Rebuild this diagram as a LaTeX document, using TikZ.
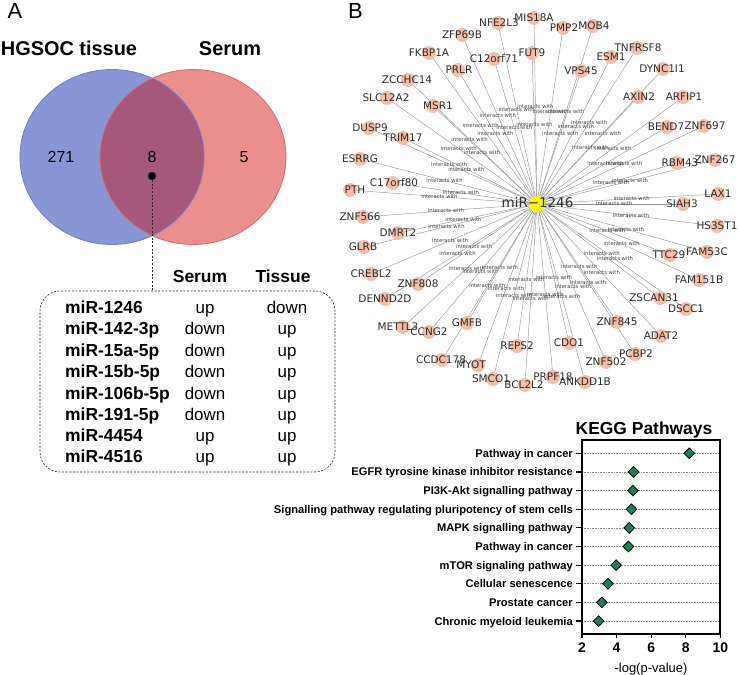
\documentclass[tikz,border=0pt]{standalone}
\usepackage{fontspec}
\setmainfont{Liberation Sans}
\newfontfamily\netfont{DejaVu Sans}
\usetikzlibrary{positioning, shapes.geometric}

\definecolor{TissueBlue}{RGB}{137,150,214}
\definecolor{TissueEdge}{RGB}{110,124,198}
\definecolor{SerumRed}{RGB}{234,142,142}
\definecolor{SerumEdge}{RGB}{214,108,108}
\definecolor{BothMauve}{RGB}{166,88,122}
\definecolor{GeneSalmon}{RGB}{246,190,166}
\definecolor{HubYellow}{RGB}{255,245,0}
\definecolor{EdgeGray}{RGB}{150,150,150}
\definecolor{NetGray}{RGB}{45,45,45}
\definecolor{KeggGreen}{RGB}{28,128,84}

\def\genes{MIS18A/534/18/534, NFE2L3/498/23/499, PMP2/563/28/564, MOB4/593/26/594,
  ZFP69B/462/35/462, FKBP1A/429/53/429, C12orf71/494/59/494, FUT9/532/53/532,
  ESM1/611/57/611, TNFRSF8/637/48/638, PRLR/458/70/459, VPS45/581/71/581,
  DYNC1I1/663/69/662, ZCCHC14/408/80/407, SLC12A2/387/98/386, MSR1/433/106/438,
  AXIN2/638/97/639, ARFIP1/683/97/684, DUSP9/369/128/370, TRIM17/403/138/403,
  BEND7/667/127/666, ZNF697/704/126/705, ESRRG/360/159/360, C17orf80/393/183/394,
  RBM43/677/163/680, ZNF267/715/160/715, PTH/350/190/355, LAX1/718/194/718,
  SIAH3/683/204/682, ZNF566/363/217/360, HS3ST1/717/226/717, DMRT2/398/233/398,
  GLRB/364/247/363, TTC29/670/255/669, FAM53C/707/252/707, CREBL2/371/274/371,
  ZNF808/418/284/418, FAM151B/699/280/699, DENND2D/385/299/385, ZSCAN31/660/298/654,
  DSCC1/686/309/686, METTL3/403/327/398, CCNG2/429/332/429, GMFB/467/323/467,
  ZNF845/617/322/617, ADAT2/661/336/661, REPS2/517/346/517, CDO1/569/343/569,
  CCDC178/442/360/441, MYOT/478/365/471, ZNF502/606/362/606, PCBP2/635/354/636,
  SMCO1/493/379/491, BCL2L2/525/385/524, PRPF18/553/377/553, ANKDD1B/585/382/585}

\begin{document}
\begin{tikzpicture}[x=1bp, y=-1bp,
        panel/.style={font=\fontsize{22}{24}\selectfont, anchor=base},
        vennhead/.style={font=\bfseries\fontsize{20}{24}\selectfont, anchor=base},
        vennnum/.style={font=\fontsize{16}{18}\selectfont, anchor=base},
        venndot/.style={circle, fill=black, inner sep=0pt, minimum size=8bp},
        tblbox/.style={draw=black!85, dashed, dash pattern=on 2bp off 1.6bp, line width=0.6bp, rounded corners=20bp, minimum width=295bp, minimum height=181bp},
        colhead/.style={font=\bfseries\fontsize{17.5}{20}\selectfont, anchor=base},
        mirname/.style={font=\bfseries\fontsize{17.5}{20}\selectfont, anchor=base west, inner sep=0pt},
        updown/.style={font=\fontsize{17}{20}\selectfont, anchor=base, inner sep=0pt},
        hub/.style={circle, fill=HubYellow, inner sep=0pt, minimum size=16bp},
        hubtext/.style={font=\netfont\fontsize{13.5}{15}\selectfont, text=NetGray, anchor=base, inner sep=0pt},
        gene/.style={circle, fill=GeneSalmon, inner sep=0pt, minimum size=14bp},
        genetext/.style={font=\netfont\fontsize{10.5}{12}\selectfont, text=NetGray, anchor=base, inner sep=0pt},
        edge/.style={draw=EdgeGray, line width=0.45bp},
        elabel/.style={font=\netfont\fontsize{5.3}{6}\selectfont, text=black!75, inner sep=0pt},
        kegghead/.style={font=\bfseries\fontsize{17.5}{20}\selectfont, anchor=base},
        keggrow/.style={font=\bfseries\fontsize{11.2}{13}\selectfont, anchor=base east, inner sep=0pt},
        keggdot/.style={diamond, draw=black, line width=0.8bp, fill=KeggGreen, inner sep=0pt, minimum size=11bp},
        rowline/.style={draw=black!45, densely dotted, line width=0.6bp},
        axis/.style={draw=black, line width=1.2bp},
        ticklabel/.style={font=\bfseries\fontsize{14}{16}\selectfont, anchor=base},
        axislabel/.style={font=\fontsize{13}{15}\selectfont, anchor=base}
    ]
        \useasboundingbox (0,0) rectangle (738,675);

        % Panel A: Venn diagram
        \node[panel] (pa) at (15,19) {A};
        \fill[TissueBlue] (112,157) ellipse [x radius=92bp, y radius=87.5bp];
        \fill[SerumRed] (193,157) ellipse [x radius=93bp, y radius=87.5bp];
        \begin{scope}
            \clip (112,157) ellipse [x radius=92bp, y radius=87.5bp];
            \fill[BothMauve] (193,157) ellipse [x radius=93bp, y radius=87.5bp];
        \end{scope}
        \draw[TissueEdge, line width=0.8bp] (112,157) ellipse [x radius=92bp, y radius=87.5bp];
        \draw[SerumEdge, line width=0.8bp] (193,157) ellipse [x radius=93bp, y radius=87.5bp];
        \node[vennhead] (tissue) at (69,56) {HGSOC tissue};
        \node[vennhead] (serum) at (230,56) {Serum};
        \node[vennnum] (only1) at (61,162) {271};
        \node[vennnum] (both) at (152,162) {8};
        \node[vennnum] (only2) at (244,162) {5};
        \node[venndot] (dot) at (152,176) {};

        % Shared miRNAs
        \node[tblbox] (tbl) at (187.5,381.5) {};
        \draw[black!85, dashed, dash pattern=on 2bp off 1.6bp, line width=0.6bp] (dot) -- (dot |- tbl.north);
        \node[colhead] (hserum) at (200,282) {Serum};
        \node[colhead] (htissue) at (283,282) {Tissue};
        \foreach \mir/\srm/\tis/\y [count=\r] in {miR-1246/up/down/313, miR-142-3p/down/up/334,
            miR-15a-5p/down/up/356, miR-15b-5p/down/up/377, miR-106b-5p/down/up/399,
            miR-191-5p/down/up/420, miR-4454/up/up/441, miR-4516/up/up/462} {
            \node[mirname] (m\r) at (65,\y) {\mir};
            \node[updown] (s\r) at (205,\y) {\srm};
            \node[updown] (t\r) at (287,\y) {\tis};
        }

        % Panel B: target network
        \node[panel] (pb) at (355.5,19) {B};
        \node[hub] (hub) at (537,204) {};
        \foreach \name/\x/\y/\lx [count=\i] in \genes {
            \coordinate (p\i) at (\x,\y);
            \draw[edge] (hub) -- (p\i) node[midway, elabel] {interacts with};
        }
        \foreach \name/\x/\y/\lx [count=\i] in \genes
            \node[gene] (g\i) at (p\i) {};
        \node[hub] (hubtop) at (hub) {};
        \foreach \name/\x/\y/\lx [count=\i] in \genes
            \node[genetext] (n\i) at (\lx,\y+3.8) {\name};
        \node[hubtext] (hubname) at (537.5,207) {miR−1246};

        % KEGG pathways
        \node[kegghead] (kegg) at (644,434) {KEGG Pathways};
        \foreach \pw/\v [count=\k] in {Pathway in cancer/8.2,
            EGFR tyrosine kinase inhibitor resistance/4.98, PI3K-Akt signalling pathway/4.94,
            Signalling pathway regulating pluripotency of stem cells/4.86,
            MAPK signalling pathway/4.73, Pathway in cancer/4.68, mTOR signaling pathway/3.97,
            Cellular senescence/3.5, Prostate cancer/3.15, Chronic myeloid leukemia/2.96} {
            \pgfmathsetmacro\ky{453.3+(\k-1)*18.64}
            \draw[rowline] (582,\ky) -- (720,\ky);
            \draw[axis] (576,\ky) -- (582,\ky);
            \node[keggrow] (kl\k) at (573,\ky+4) {\pw};
        }
        \draw[axis] (582,440) rectangle (720,634);
        \foreach \t in {2,4,6,8,10} {
            \draw[axis] ({582+(\t-2)*17.3},634) -- ++(0,4);
            \node[ticklabel] (xt\t) at ({582+(\t-2)*17.3},652) {\t};
        }
        \node[axislabel] (xlab) at (651,672) {-log(p-value)};
        \foreach \pw/\v [count=\k] in {a/8.2, b/4.98, c/4.94, d/4.86, e/4.73, f/4.68, g/3.97, h/3.5, i/3.15, j/2.96} {
            \pgfmathsetmacro\ky{453.3+(\k-1)*18.64}
            \node[keggdot] (kd\k) at ({582+(\v-2)*17.3},\ky) {};
        }
    \end{tikzpicture}
\end{document}
